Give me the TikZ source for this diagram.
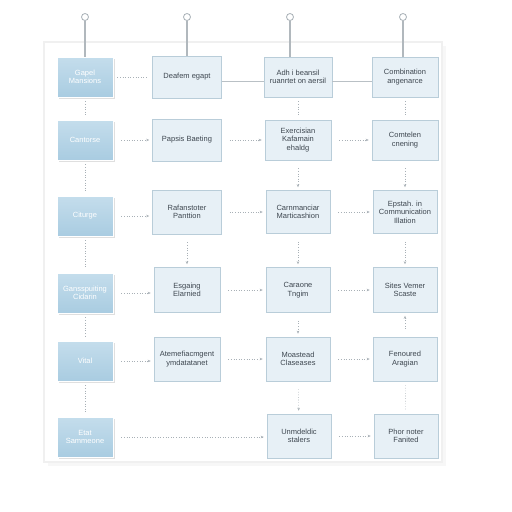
\documentclass[tikz,border=0pt]{standalone}
\usepackage{fontspec}
\setmainfont{Liberation Sans}
\usetikzlibrary{arrows.meta,shadows}
\definecolor{bluefill}{HTML}{A9CCE1}
\definecolor{bluetop}{HTML}{C4DDEC}
\definecolor{boxfill}{HTML}{E7F0F6}
\definecolor{boxline}{HTML}{B9CDD9}
\definecolor{txt}{HTML}{3E4750}
\definecolor{conn}{HTML}{A8B0B6}
\begin{document}
\begin{tikzpicture}[x=1pt,y=-1pt,
  bluebox/.style={rectangle,draw=white,line width=0.8pt,top color=bluetop,bottom color=bluefill,
    minimum width=56pt,minimum height=40pt,text=white,font=\fontsize{7.5}{8.5}\selectfont,align=center,
    drop shadow={shadow xshift=1.5pt,shadow yshift=-1.5pt,opacity=0.25}},
  lightbox/.style={rectangle,draw=boxline,line width=0.6pt,fill=boxfill,
    minimum height=42pt,text=txt,font=\fontsize{7.5}{8.5}\selectfont,align=center},
  flowarrow/.style={draw=conn,dotted,line width=0.6pt,-{Stealth[length=3pt,width=2.5pt]},shorten <=8pt,shorten >=3pt},
  flowline/.style={draw=conn,dotted,line width=0.6pt,shorten <=4pt,shorten >=4pt},
  pinhead/.style={circle,draw=conn,fill=white,line width=0.8pt,minimum size=7pt,inner sep=0pt},
  pinline/.style={draw=conn!90,line width=1.2pt},
  topline/.style={draw=conn!80,line width=1pt}]
\useasboundingbox (0,0) rectangle (512,512);
\fill[white] (0,0) rectangle (512,512);
% soft sheet
\fill[gray!6] (48,46) rectangle (446,466);
\fill[white] (44,42) rectangle (442,462);
\draw[gray!12,line width=2pt] (44,42) rectangle (442,462);

% column 1
\node[bluebox] (a1) at (85,77) {Gapel\\Mansions};
\node[bluebox] (a2) at (85,140) {Cantorse};
\node[bluebox] (a3) at (85,216) {Citurge};
\node[bluebox] (a4) at (85,293) {Gansspuiting\\Cidarin};
\node[bluebox] (a5) at (85,361) {Vital};
\node[bluebox] (a6) at (85,437) {Etat\\Sammeone};

% column 2
\node[lightbox,minimum width=69pt] (b1) at (187,77) {Deafem egapt};
\node[lightbox,minimum width=69pt] (b2) at (187,140) {Papsis Baeting};
\node[lightbox,minimum width=69pt,minimum height=44pt] (b3) at (187,212) {Rafanstoter\\Panttion};
\node[lightbox,minimum width=66pt,minimum height=45pt] (b4) at (187,290) {Esgaing\\Elarnied};
\node[lightbox,minimum width=66pt,minimum height=44pt] (b5) at (187,359) {Atemefiacmgent\\ymdatatanet};

% column 3
\node[lightbox,minimum width=68pt,minimum height=40pt] (c1) at (298,77) {Adh i beansil\\ruanrtet on aersil};
\node[lightbox,minimum width=66pt,minimum height=40pt] (c2) at (298,140) {Exercisian\\Kafamain\\ehaldg};
\node[lightbox,minimum width=64pt,minimum height=43pt] (c3) at (298,212) {Carnmanciar\\Marticashion};
\node[lightbox,minimum width=64pt,minimum height=45pt] (c4) at (298,290) {Caraone\\Tngim};
\node[lightbox,minimum width=64pt,minimum height=44pt] (c5) at (298,359) {Moastead\\Claseases};
\node[lightbox,minimum width=64pt,minimum height=44pt] (c6) at (299,436) {Unmdeldic\\stalers};

% column 4
\node[lightbox,minimum width=66pt,minimum height=40pt] (d1) at (405,77) {Combination\\angenarce};
\node[lightbox,minimum width=66pt,minimum height=40pt] (d2) at (405,140) {Comtelen\\cnening};
\node[lightbox,minimum width=64pt,minimum height=43pt] (d3) at (405,212) {Epstah. in\\Communication\\Illation};
\node[lightbox,minimum width=64pt,minimum height=45pt] (d4) at (405,290) {Sites Vemer\\Scaste};
\node[lightbox,minimum width=64pt,minimum height=44pt] (d5) at (405,359) {Fenoured\\Aragian};
\node[lightbox,minimum width=64pt,minimum height=44pt] (d6) at (406,436) {Phor noter\\Fanited};

% pins
\node[pinhead] (p1) at (85,17) {};
\node[pinhead] (p2) at (187,17) {};
\node[pinhead] (p3) at (290,17) {};
\node[pinhead] (p4) at (403,17) {};
\draw[pinline] (p1) -- (a1.north -| p1);
\draw[pinline] (p2) -- (b1.north -| p2);
\draw[pinline] (p3) -- (c1.north -| p3);
\draw[pinline] (p4) -- (d1.north -| p4);

% top row links
\draw[flowline] (a1.east) -- (b1.west);
\draw[topline] ([yshift=-4pt]b1.east) -- ([yshift=-4pt]c1.west);
\draw[topline] ([yshift=-4pt]c1.east) -- ([yshift=-4pt]d1.west);

% column 1 verticals
\draw[flowline] (a1) -- (a2);
\draw[flowline] (a2) -- (a3);
\draw[flowline] (a3) -- (a4);
\draw[flowline] (a4) -- (a5);
\draw[flowline] (a5) -- (a6);

% row 2
\draw[flowarrow] (a2) -- (b2);
\draw[flowarrow] (b2) -- (c2);
\draw[flowarrow] (c2) -- (d2);
% row 3
\draw[flowarrow] (a3.east) -- (b3.west |- a3.east);
\draw[flowarrow] (b3) -- (c3);
\draw[flowarrow] (c3) -- (d3);
% row 4
\draw[flowarrow] (a4.east) -- (b4.west |- a4.east);
\draw[flowarrow] (b4) -- (c4);
\draw[flowarrow] (c4) -- (d4);
% row 5
\draw[flowarrow] (a5.east) -- (b5.west |- a5.east);
\draw[flowarrow] (b5) -- (c5);
\draw[flowarrow] (c5) -- (d5);
% row 6
\draw[flowarrow] (a6.east) -- (c6.west |- a6.east);
\draw[flowarrow] (c6) -- (d6);

% verticals columns 2-4
\draw[flowline] (c1) -- (c2);
\draw[flowline] (d1) -- (d2);
\draw[flowarrow] (c2) -- (c3);
\draw[flowarrow] (d2) -- (d3);
\draw[flowarrow] (b3) -- (b4);
\draw[flowarrow] (c3) -- (c4);
\draw[flowarrow] (d3) -- (d4);
\draw[flowarrow] (c4) -- (c5);
\draw[flowarrow] (d5) -- (d4);
\draw[flowarrow] (c5) -- (c6);
\draw[flowline] (d5) -- (d6);
\end{tikzpicture}
\end{document}
